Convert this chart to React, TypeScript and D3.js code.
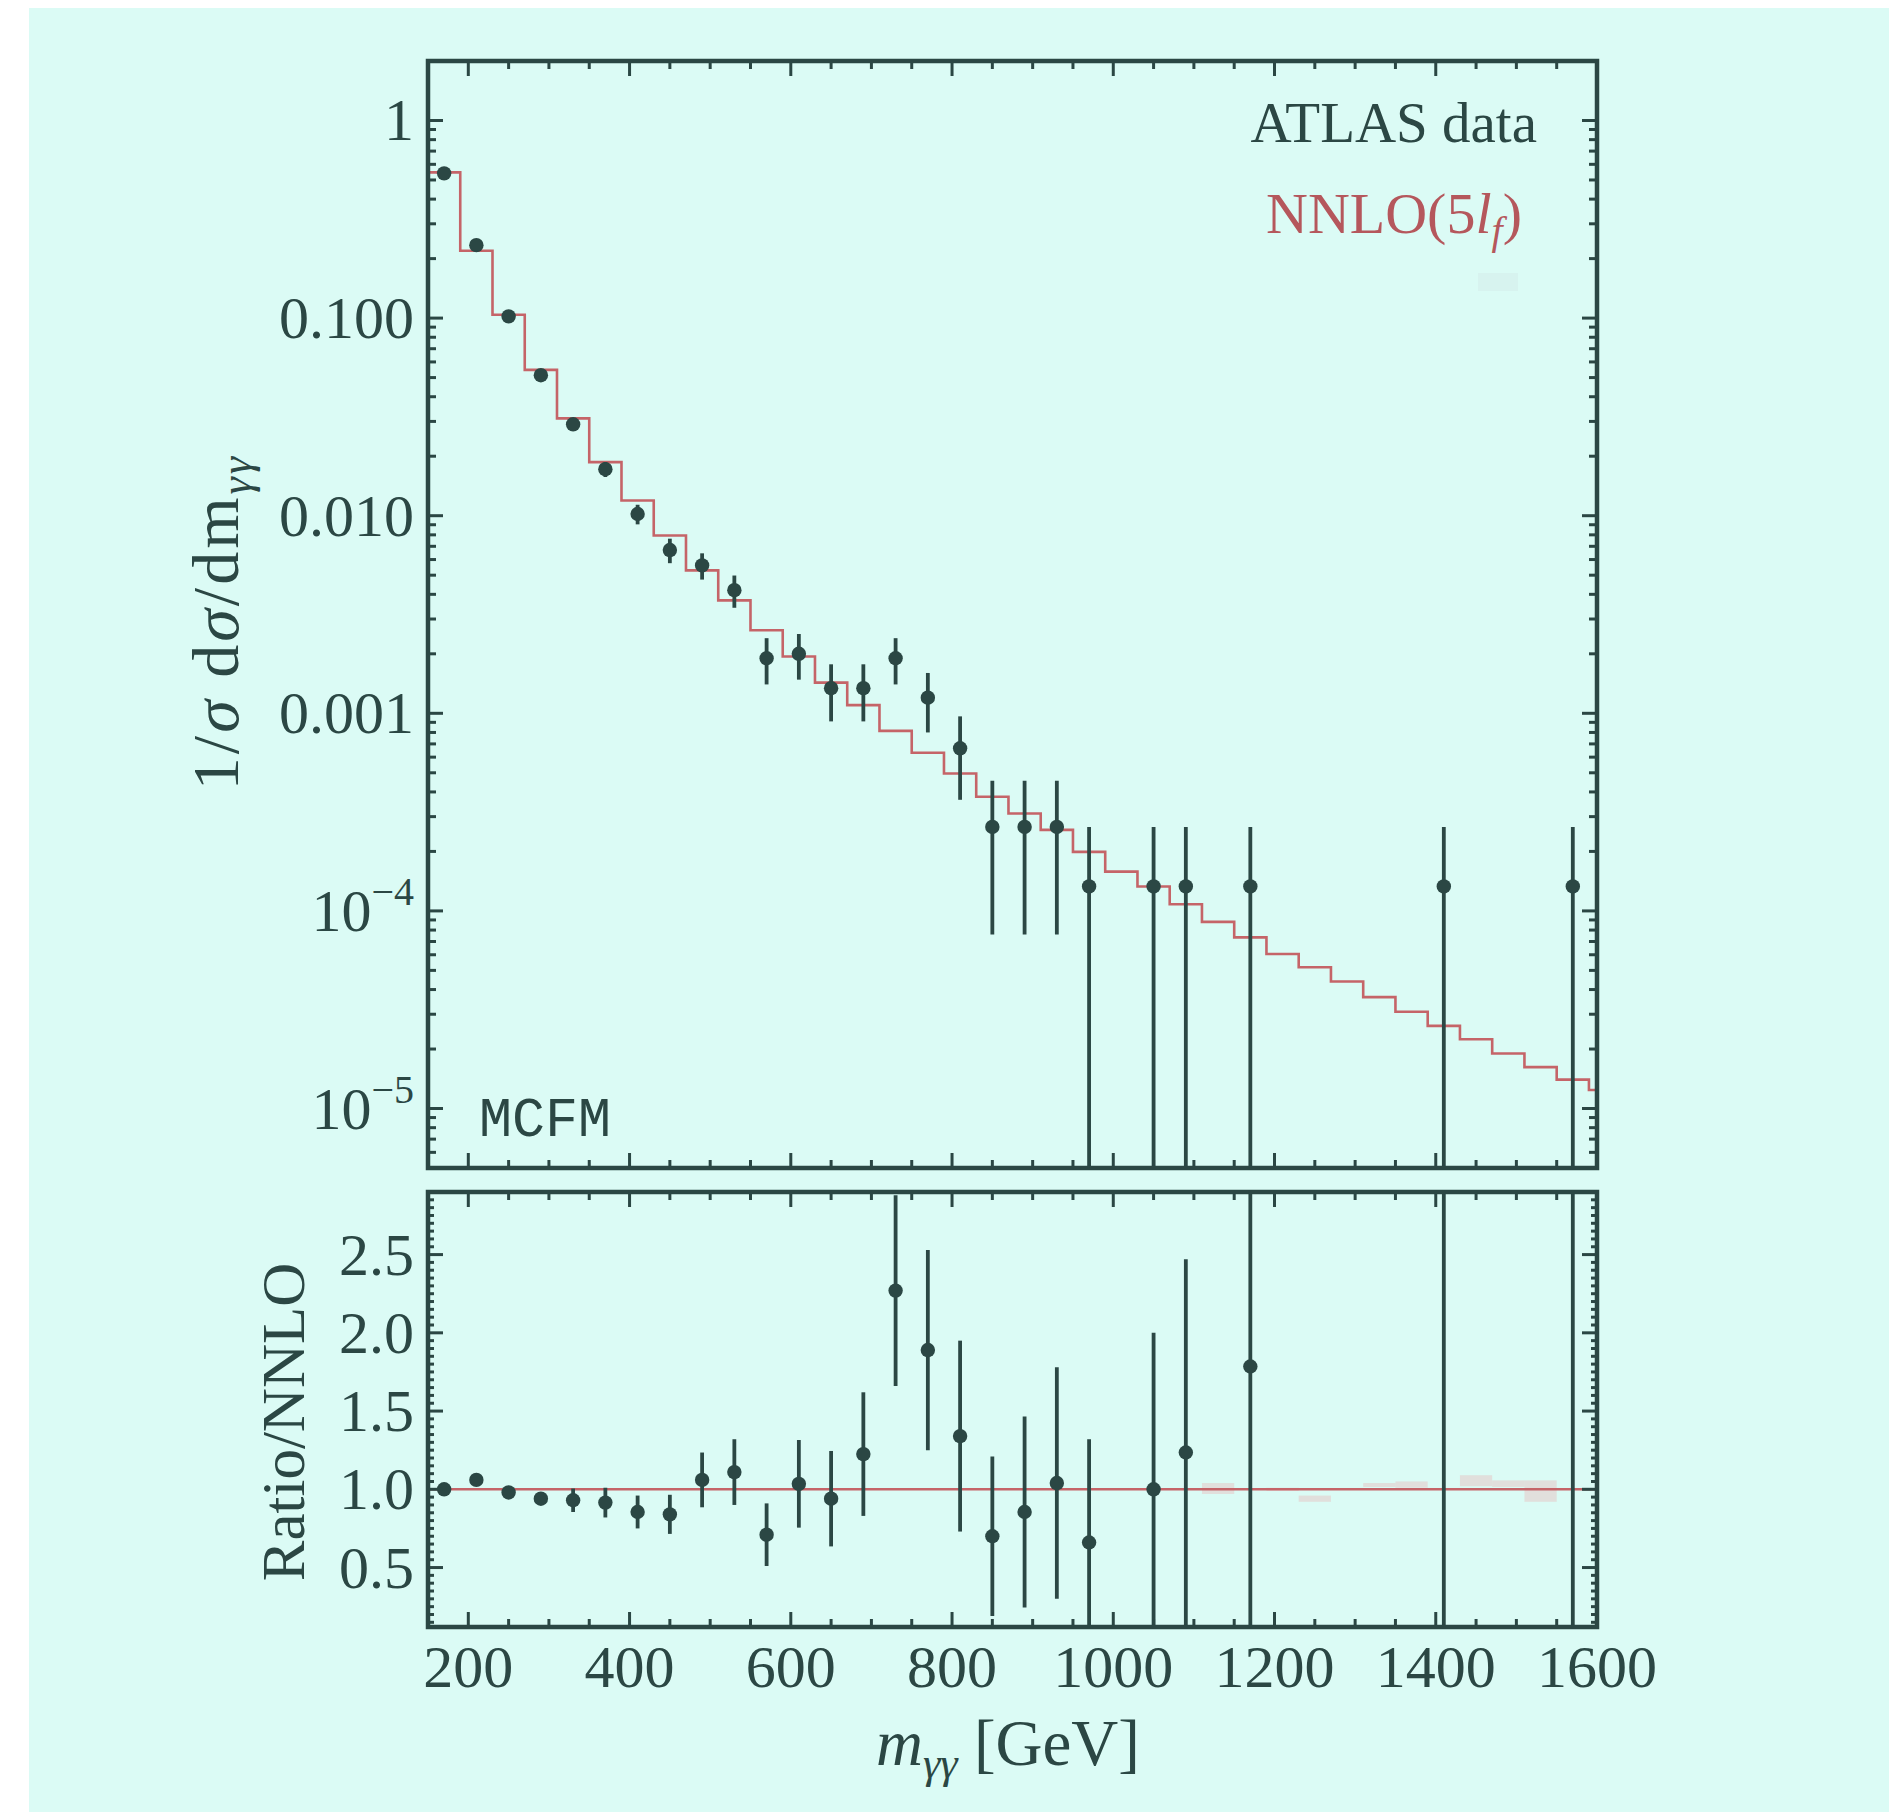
import React from "react";
import * as d3 from "d3";

// Measured diphoton mass bins (bin centres, GeV)
const massCenters = [170, 210, 250, 290, 330, 370, 410, 450, 490, 530, 570, 610, 650, 690, 730, 770, 810, 850, 890, 930, 970, 1050, 1090, 1170, 1410, 1570];

// Normalised ATLAS distribution and its uncertainties
const dataValues = [0.54, 0.234, 0.102, 0.0514, 0.029, 0.0172, 0.0102, 0.0067, 0.0056, 0.0042, 0.0019, 0.002, 0.00134, 0.00134, 0.0019, 0.0012, 0.000665, 0.000266, 0.000266, 0.000266, 0.000133, 0.000133, 0.000133, 0.000133, 0.000133, 0.000133];
const dataErrors = [0.0085, 0.0055, 0.0037, 0.0026, 0.002, 0.0015, 0.00116, 0.00095, 0.00085, 0.00078, 0.0005, 0.00052, 0.00043, 0.00043, 0.0005, 0.0004, 0.0003, 0.00019, 0.00019, 0.00019, 0.000133, 0.000133, 0.000133, 0.000133, 0.000133, 0.000133];

// Data / NNLO ratio and its uncertainties
const ratioValues = [1.0, 1.06, 0.98, 0.94, 0.93, 0.915, 0.855, 0.84, 1.06, 1.11, 0.71, 1.035, 0.94, 1.225, 2.27, 1.89, 1.34, 0.7, 0.855, 1.04, 0.66, 1.0, 1.235, 1.785, 5.1, 9.5];
const ratioErrors = [0.01, 0.015, 0.02, 0.035, 0.075, 0.095, 0.105, 0.125, 0.175, 0.21, 0.2, 0.28, 0.305, 0.395, 0.61, 0.64, 0.61, 0.51, 0.61, 0.74, 0.66, 1.0, 1.235, 1.785, 5.1, 9.5];

// NNLO(5 l_f) prediction, 40 GeV bins (lower edges)
const nnloBinLow = [150, 190, 230, 270, 310, 350, 390, 430, 470, 510, 550, 590, 630, 670, 710, 750, 790, 830, 870, 910, 950, 990, 1030, 1070, 1110, 1150, 1190, 1230, 1270, 1310, 1350, 1390, 1430, 1470, 1510, 1550, 1590];
const nnloValues = [0.546, 0.219, 0.104, 0.0547, 0.0311, 0.01866, 0.01194, 0.00794, 0.00529, 0.00373, 0.00263, 0.00194, 0.00143, 0.0011, 0.000815, 0.000631, 0.000496, 0.000378, 0.000311, 0.000257, 0.000199, 0.000158, 0.000133, 0.000108, 8.8e-5, 7.35e-5, 6.05e-5, 5.19e-5, 4.39e-5, 3.66e-5, 3.09e-5, 2.62e-5, 2.24e-5, 1.9e-5, 1.62e-5, 1.4e-5, 1.24e-5];
const binWidth = 40;

// Monte-Carlo uncertainty boxes of the prediction in the ratio panel
const bandBinLow = [1110, 1190, 1230, 1310, 1350, 1430, 1470, 1510];
const bandMin = [0.97, 0.99, 0.92, 1.015, 1.01, 1.02, 1.015, 0.92];
const bandMax = [1.04, 1.01, 0.96, 1.04, 1.05, 1.09, 1.057, 1.057];

// Axis ticks
const xMajorTicks = [200, 400, 600, 800, 1000, 1200, 1400, 1600];
const upperTickLabels = [
  { v: 1, base: "1", sup: "" },
  { v: 0.1, base: "0.100", sup: "" },
  { v: 0.01, base: "0.010", sup: "" },
  { v: 0.001, base: "0.001", sup: "" },
  { v: 1e-4, base: "10", sup: "\u22124" },
  { v: 1e-5, base: "10", sup: "\u22125" },
];
const ratioTickLabels = ["0.5", "1.0", "1.5", "2.0", "2.5"];

const INK = "#2b4744";
const RED = "#c56468";
const RED_TEXT = "#b5575c";
const BG = "#dbfbf5";
const SERIF = "'Liberation Serif', 'Times New Roman', serif";

export default function App() {
  const W = 1889;
  const H = 1816;

  const x = d3.scaleLinear().domain([150, 1600]).range([428, 1597]);
  const yT = d3.scaleLog().domain([5e-6, 2]).range([1168, 61]);
  const yR = d3.scaleLinear().domain([0.12, 2.9]).range([1627, 1192]);

  const [x0, x1] = x.range();
  const [tY1, tY0] = yT.range();
  const [rY1, rY0] = yR.range();

  const majorLen = 15;
  const minorLen = 8;
  const tickW = 3;

  const xMinor = d3.range(150, 1601, 50).filter((v) => !xMajorTicks.includes(v));

  // Horizontal-axis ticks drawn inward on top and bottom of a frame
  const xTicks = (yTop: number, yBot: number, key: string) => (
    <g key={key} stroke={INK} strokeWidth={tickW}>
      {xMajorTicks.map((v) => (
        <g key={`M${v}`}>
          <line x1={x(v)} x2={x(v)} y1={yTop} y2={yTop + majorLen} />
          <line x1={x(v)} x2={x(v)} y1={yBot} y2={yBot - majorLen} />
        </g>
      ))}
      {xMinor.map((v) => (
        <g key={`m${v}`}>
          <line x1={x(v)} x2={x(v)} y1={yTop} y2={yTop + minorLen} />
          <line x1={x(v)} x2={x(v)} y1={yBot} y2={yBot - minorLen} />
        </g>
      ))}
    </g>
  );

  // Log ticks of the upper panel
  const logTicks = yT.ticks();
  const isDecade = (v: number) => Math.abs(Math.log10(v) - Math.round(Math.log10(v))) < 1e-9;

  // Ratio ticks
  const ratioMajor = ratioTickLabels.map((t) => +t);
  const ratioMinor = d3.range(0.15, 2.9, 0.05).filter(
    (v) => !ratioMajor.some((m) => Math.abs(m - v) < 1e-6)
  );

  const stepPts: [number, number][] = nnloBinLow.map((lo, i) => [lo, nnloValues[i]]);
  stepPts.push([nnloBinLow[nnloBinLow.length - 1] + binWidth, nnloValues[nnloValues.length - 1]]);
  const stepLine = d3
    .line<[number, number]>()
    .x((d) => x(d[0]))
    .y((d) => yT(d[1]))
    .curve(d3.curveStepAfter);

  const ratioLine = d3
    .line<[number, number]>()
    .x((d) => x(d[0]))
    .y((d) => yR(d[1]));

  return (
    <svg
      width={W}
      height={H}
      viewBox={`0 0 ${W} ${H}`}
      style={{ position: "absolute", left: 0, top: 0, display: "block" }}
      fontFamily={SERIF}
    >
      <defs>
        <clipPath id="clipTop">
          <rect x={x0} y={tY0} width={x1 - x0} height={tY1 - tY0} />
        </clipPath>
        <clipPath id="clipBot">
          <rect x={x0} y={rY0} width={x1 - x0} height={rY1 - rY0} />
        </clipPath>
      </defs>

      <rect x={0} y={0} width={W} height={H} fill="#ffffff" />
      <rect x={29} y={8} width={W - 29} height={H - 12} fill={BG} />

      {/* ---------- Upper panel: normalised distribution ---------- */}
      <g clipPath="url(#clipTop)">
        <path d={stepLine(stepPts) || ""} fill="none" stroke={RED} strokeWidth={2.6} />
        {massCenters.map((m, i) => {
          const v = dataValues[i];
          const e = dataErrors[i];
          const lo = v - e > 0 ? v - e : 1e-9;
          return (
            <g key={`d${m}`}>
              <line x1={x(m)} x2={x(m)} y1={yT(v + e)} y2={yT(lo)} stroke={INK} strokeWidth={3.8} />
              <circle cx={x(m)} cy={yT(v)} r={7.2} fill={INK} />
            </g>
          );
        })}
      </g>

      {/* upper frame ticks */}
      {xTicks(tY0, tY1, "xt-top")}
      <g stroke={INK} strokeWidth={tickW}>
        {logTicks.map((v) => {
          const len = isDecade(v) ? majorLen : minorLen;
          return (
            <g key={`ly${v}`}>
              <line x1={x0} x2={x0 + len} y1={yT(v)} y2={yT(v)} />
              <line x1={x1} x2={x1 - len} y1={yT(v)} y2={yT(v)} />
            </g>
          );
        })}
      </g>
      <rect x={x0} y={tY0} width={x1 - x0} height={tY1 - tY0} fill="none" stroke={INK} strokeWidth={4.5} />

      {/* upper tick labels */}
      <g fill={INK} fontSize={60} textAnchor="end">
        {upperTickLabels.map((t) => (
          <text key={`ul${t.v}`} x={414} y={yT(t.v) + 20}>
            {t.base}
            {t.sup ? (
              <tspan fontSize={40} dy={-26}>
                {t.sup}
              </tspan>
            ) : null}
          </text>
        ))}
      </g>

      {/* upper axis title */}
      <text
        transform="translate(238,622) rotate(-90)"
        textAnchor="middle"
        fontSize={66}
        letterSpacing={3}
        fill={INK}
      >
        1/<tspan fontStyle="italic">σ</tspan> d<tspan fontStyle="italic">σ</tspan>/dm
        <tspan fontSize={44} dy={13} fontStyle="italic">
          γγ
        </tspan>
      </text>

      {/* legend */}
      <text x={1537} y={142} textAnchor="end" fontSize={57} fill={INK}>
        ATLAS data
      </text>
      <text x={1522} y={233} textAnchor="end" fontSize={58} fill={RED_TEXT}>
        NNLO(5<tspan fontStyle="italic">l</tspan>
        <tspan fontSize={40} dy={11} fontStyle="italic">
          f
        </tspan>
        <tspan dy={-11}>)</tspan>
      </text>
      <rect x={1478} y={273} width={40} height={18} fill="#d3ecea" opacity={0.5} />

      <text x={479} y={1136} fontSize={55} fill={INK} fontFamily="'Courier New', 'Liberation Mono', monospace">
        MCFM
      </text>

      {/* ---------- Lower panel: ratio to NNLO ---------- */}
      <g clipPath="url(#clipBot)">
        {bandBinLow.map((lo, i) => (
          <rect
            key={`b${lo}`}
            x={x(lo)}
            y={yR(bandMax[i])}
            width={x(lo + binWidth) - x(lo)}
            height={yR(bandMin[i]) - yR(bandMax[i])}
            fill="#eab4b4"
            opacity={0.38}
          />
        ))}
        <path d={ratioLine([[150, 1], [1600, 1]]) || ""} fill="none" stroke={RED} strokeWidth={2.6} />
        {massCenters.map((m, i) => {
          const v = ratioValues[i];
          const e = ratioErrors[i];
          return (
            <g key={`r${m}`}>
              <line x1={x(m)} x2={x(m)} y1={yR(v + e)} y2={yR(v - e)} stroke={INK} strokeWidth={3.8} />
              <circle cx={x(m)} cy={yR(v)} r={7.2} fill={INK} />
            </g>
          );
        })}
      </g>

      {xTicks(rY0, rY1, "xt-bot")}
      <g stroke={INK} strokeWidth={tickW}>
        {ratioMajor.map((v) => (
          <g key={`RM${v}`}>
            <line x1={x0} x2={x0 + majorLen} y1={yR(v)} y2={yR(v)} />
            <line x1={x1} x2={x1 - majorLen} y1={yR(v)} y2={yR(v)} />
          </g>
        ))}
        {ratioMinor.map((v) => (
          <g key={`Rm${v.toFixed(2)}`}>
            <line x1={x0} x2={x0 + 6} y1={yR(v)} y2={yR(v)} />
            <line x1={x1} x2={x1 - 6} y1={yR(v)} y2={yR(v)} />
          </g>
        ))}
      </g>
      <rect x={x0} y={rY0} width={x1 - x0} height={rY1 - rY0} fill="none" stroke={INK} strokeWidth={4.5} />

      <g fill={INK} fontSize={60} textAnchor="end">
        {ratioTickLabels.map((t) => (
          <text key={`rl${t}`} x={414} y={yR(+t) + 20}>
            {t}
          </text>
        ))}
      </g>
      <g fill={INK} fontSize={60} textAnchor="middle">
        {xMajorTicks.map((v) => (
          <text key={`xl${v}`} x={x(v)} y={1687}>
            {v}
          </text>
        ))}
      </g>

      <text transform="translate(304,1422) rotate(-90)" textAnchor="middle" fontSize={61} fill={INK}>
        Ratio/NNLO
      </text>

      <text x={1008} y={1765} textAnchor="middle" fontSize={65} fill={INK}>
        <tspan fontStyle="italic">m</tspan>
        <tspan fontSize={44} dy={13} fontStyle="italic">
          γγ
        </tspan>
        <tspan dy={-13}> [GeV]</tspan>
      </text>
    </svg>
  );
}
